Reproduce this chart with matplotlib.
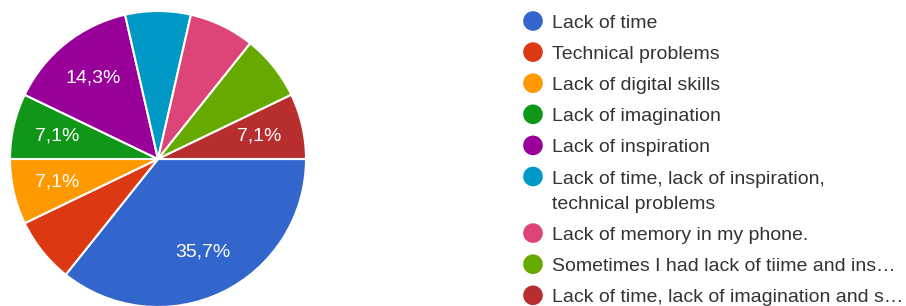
import numpy as np
import matplotlib.pyplot as plt

plt.rcParams['font.family'] = ['Liberation Sans', 'DejaVu Sans']

# survey answers (14 responses)
labels = ['Lack of time',
          'Technical problems',
          'Lack of digital skills',
          'Lack of imagination',
          'Lack of inspiration',
          'Lack of time, lack of inspiration,\ntechnical problems',
          'Lack of memory in my phone.',
          'Sometimes I had lack of tiime and ins\u2026',
          'Lack of time, lack of imagination and s\u2026']
counts = [5, 1, 1, 1, 2, 1, 1, 1, 1]
show_pct = [True, False, True, True, True, False, False, False, True]
colors = ['#3366cc', '#dc3912', '#ff9900', '#109618', '#990099',
          '#0099c6', '#dd4477', '#66aa00', '#b82e2e']

fig = plt.figure(figsize=(9.06, 3.06), dpi=100)

# pie: centre at (158,159) px, radius 148 px
ax = fig.add_axes([10 / 906, -1 / 306, 296 / 906, 296 / 306])
total = sum(counts)

wedges, _ = ax.pie(counts, colors=colors, startangle=0, counterclock=False,
                   wedgeprops=dict(edgecolor='white', linewidth=1.5))
for w, c, show in zip(wedges, counts, show_pct):
    if not show:
        continue
    ang = np.deg2rad((w.theta1 + w.theta2) / 2)
    txt = ('%.1f%%' % (100 * c / total)).replace('.', ',')
    ax.text(0.7 * np.cos(ang), 0.7 * np.sin(ang), txt, color='white',
            fontsize=14, ha='center', va='center')
ax.set_xlim(-1, 1)
ax.set_ylim(-1, 1)
ax.set_aspect('equal')
ax.axis('off')

# legend drawn in pixel coordinates
lax = fig.add_axes([0, 0, 1, 1])
lax.set_xlim(0, 906)
lax.set_ylim(306, 0)
lax.axis('off')
y = 21
for lab, col in zip(labels, colors):
    lax.scatter([533], [y], s=200, color=col, edgecolors='none')
    lines = lab.split('\n')
    for k, line in enumerate(lines):
        lax.text(552, y + 7 + 25.5 * k, line, fontsize=14, color='#333333',
                 va='baseline')
    y += 31.1 + 25.5 * (len(lines) - 1)

fig.savefig('out.png', dpi=100)
